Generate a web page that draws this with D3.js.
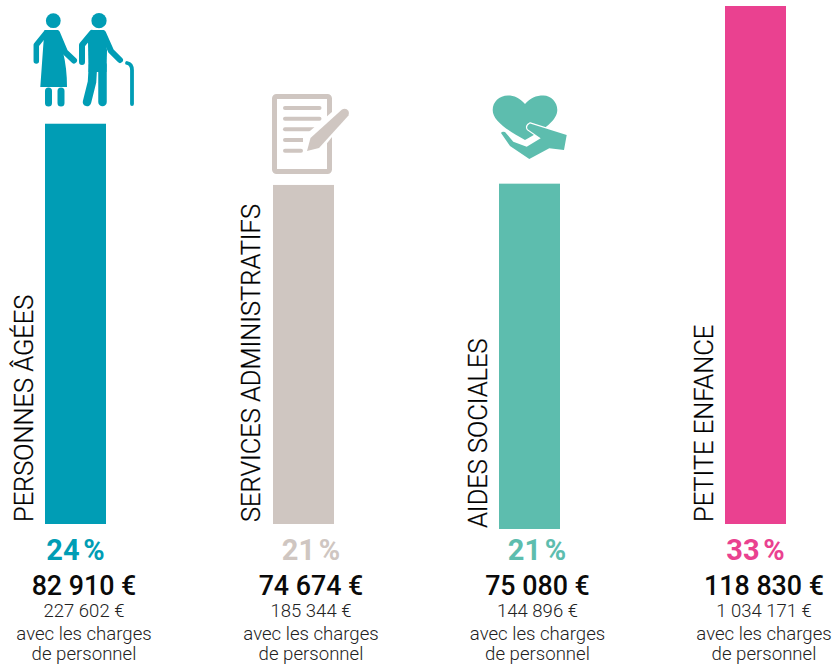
<!DOCTYPE html>
<html><head><meta charset="utf-8">
<script src="https://cdn.jsdelivr.net/npm/d3@7"></script>
<style>html,body{margin:0;padding:0;background:#fff}svg{display:block}text{font-family:Roboto,sans-serif}</style>
</head><body><svg id="c" width="832" height="664"></svg>
<script>
const categories=["PERSONNES ÂGÉES","SERVICES ADMINISTRATIFS","AIDES SOCIALES","PETITE ENFANCE"];
const barValues=[25.5,21.6,22.0,33];
const percentLabels=["24 %","21 %","21 %","33 %"];
const amountLabels=["82 910 €","74 674 €","75 080 €","118 830 €"];
const totalLabels=["227 602 €","185 344 €","144 896 €","1 034 171 €"];
const colors=["#009db5","#cfc6c1","#5dbdae","#ea4190"];

const layout={barLeft:[45,273,499,725],barBottom:[524,524,529,524],barW:61,
  labelX:[32.5,259.5,486.5,712.5],labelY:[522,522,528,522],pctX:[75.5,311,537,755.5],textX:[84,311,537.5,764]};
const svg=d3.select("#c");
const h=d3.scaleLinear().domain([0,33]).range([0,518]);

svg.selectAll("rect.bar").data(barValues).join("rect").attr("class","bar")
 .attr("x",(d,i)=>layout.barLeft[i]).attr("width",layout.barW)
 .attr("y",(d,i)=>layout.barBottom[i]-h(d)).attr("height",d=>h(d))
 .attr("fill",(d,i)=>colors[i]);

svg.selectAll("text.cat").data(categories).join("text").attr("class","cat")
 .attr("transform",(d,i)=>`translate(${layout.labelX[i]},${layout.labelY[i]}) rotate(-90)`)
 .attr("font-size",25.4).attr("font-weight",300).attr("fill","#000").attr("stroke","#000").attr("stroke-width",0.25).text(d=>d);

svg.selectAll("text.pct").data(percentLabels).join("text").attr("class","pct")
 .attr("x",(d,i)=>layout.pctX[i]).attr("y",560).attr("text-anchor","middle")
 .attr("font-size",29).attr("font-weight",700).attr("word-spacing",-3.5).attr("fill",(d,i)=>colors[i]).text(d=>d);
svg.selectAll("text.amt").data(amountLabels).join("text").attr("class","amt")
 .attr("x",(d,i)=>layout.textX[i]).attr("y",595).attr("text-anchor","middle")
 .attr("font-size",26.8).attr("font-weight",500).attr("fill","#0a0a0a").text(d=>d);
svg.selectAll("text.tot").data(totalLabels).join("text").attr("class","tot")
 .attr("x",(d,i)=>layout.textX[i]).attr("y",617).attr("text-anchor","middle")
 .attr("font-size",18.5).attr("font-weight",300).attr("fill","#222").text(d=>d);
[["avec les charges",640],["de personnel",660]].forEach(([t,y],k)=>{
 svg.selectAll("text.n"+k).data(categories).join("text").attr("class","n"+k)
  .attr("x",(d,i)=>layout.textX[i]).attr("y",y).attr("text-anchor","middle")
  .attr("font-size",18.6).attr("font-weight",300).attr("fill","#222").text(t);
});

// pictogram: elderly couple
const g1=svg.append("g").attr("fill",colors[0]).attr("stroke",colors[0]).attr("stroke-linecap","round").attr("stroke-linejoin","round");
[[53.3,20.7,7.4],[99,20.7,7.6]].forEach(c=>g1.append("circle").attr("cx",c[0]).attr("cy",c[1]).attr("r",c[2]).attr("stroke","none"));
[["M46,33L36.3,45V61",5.5],["M57,33L65,52L74,60.5",6],["M48.5,91V103",7],["M61,91V103",7],
 ["M92,33L82,45V62",6],["M103,33L111,51L120,60",6],["M93,65L92,82L87,102",8.5],["M102.5,65V102",8.5],
 ["M127,63Q132,64 132,70V104",3.8]].forEach(p=>g1.append("path").attr("d",p[0]).attr("fill","none").attr("stroke-width",p[1]));
g1.append("path").attr("stroke","none").attr("d","M44.5,30H58L63,52Q67,68 67,87H40.3L43.3,45Z");
g1.append("path").attr("stroke","none").attr("d","M91,30H103.5L107,50L106.5,72H88.5L88,42Z");

// pictogram: form and pen
const g2=svg.append("g");
g2.append("rect").attr("x",274.5).attr("y",96.5).attr("width",55).attr("height",75).attr("rx",2)
 .attr("fill","none").attr("stroke",colors[1]).attr("stroke-width",5);
[[320.5,108],[320.5,118.7],[315,129.3],[305,140],[302,150.7]].forEach(l=>
 g2.append("line").attr("x1",285).attr("x2",l[0]-1).attr("y1",l[1]).attr("y2",l[1]).attr("stroke",colors[1]).attr("stroke-width",4).attr("stroke-linecap","round"));
g2.append("path").attr("fill","#fff").attr("d","M303,137L340,105L352,112L320,152L303,155Z");
g2.append("path").attr("fill",colors[1]).attr("d","M307,151L310.5,138L342,109.5Q346,107.5 348.5,111Q349.5,113.5 348.5,115.5L319,148Z");

// pictogram: heart in hand
const g3=svg.append("g");
g3.append("path").attr("fill",colors[2]).attr("d","M525,104C520,98 514,95.5 508,95.5C499,95.5 492.7,102 492.7,110C492.7,120 505,129 525,140C545,129 557.3,120 557.3,110C557.3,102 551,95.5 543.5,95.5C536,95.5 530,98 525,104Z");
const hand="M530,123.5L566.7,135L564,150L549.3,148.3L529.3,159L510,146L501,133Q502,131 505,132L513.3,141.7L526.7,146.7L540.7,138.3L528,129.5Q525.5,126 530,123.5Z";
g3.append("path").attr("fill",colors[2]).attr("stroke","#fff").attr("stroke-width",2.4).attr("paint-order","stroke").attr("d",hand);
</script></body></html>
